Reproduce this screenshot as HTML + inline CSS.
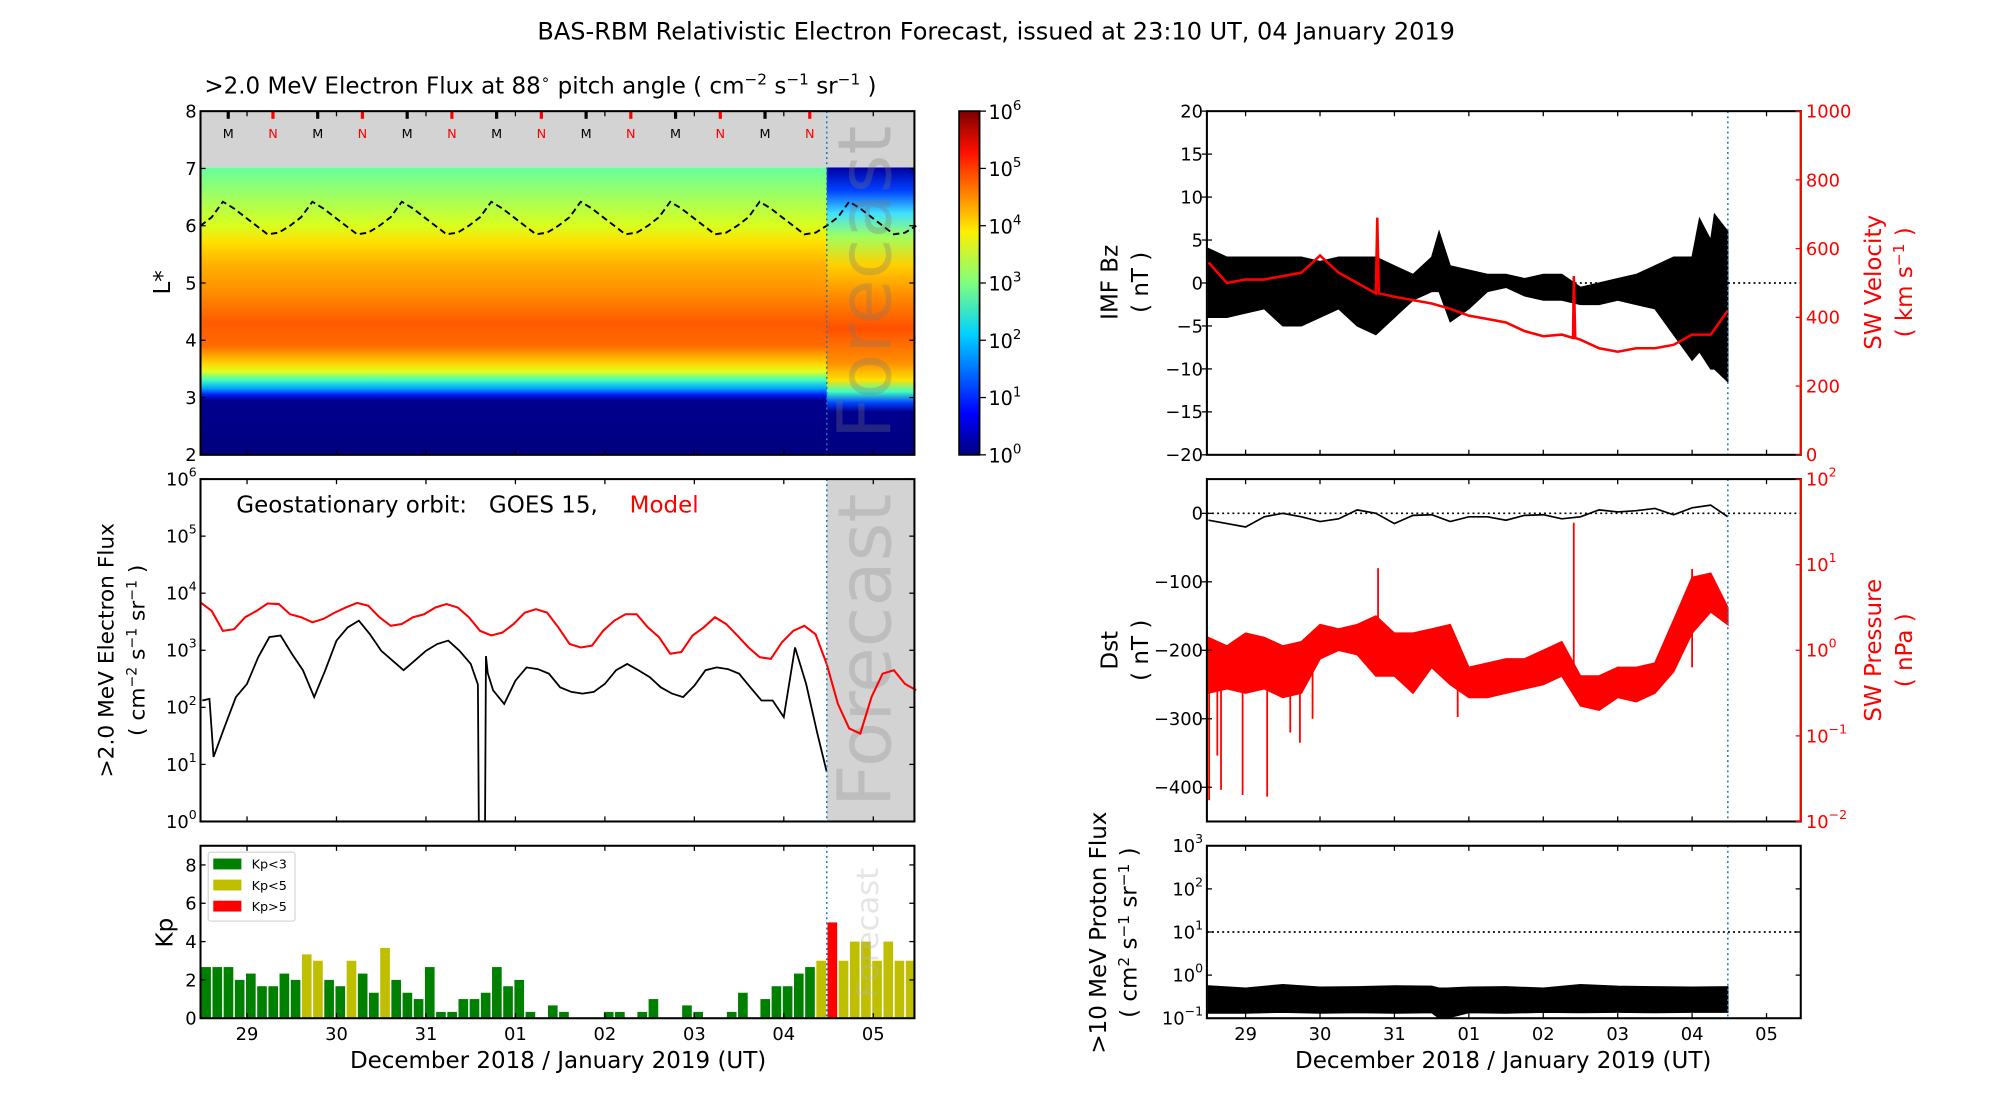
<!DOCTYPE html>
<html><head><meta charset="utf-8"><title>BAS-RBM Forecast</title>
<style>
html,body{margin:0;padding:0;background:#fff;}
svg{display:block;}
text{font-family:"DejaVu Sans","Liberation Sans",sans-serif;}
.ax{font-family:"DejaVu Sans","Liberation Sans",sans-serif;}
</style></head>
<body>
<svg id="fig" xmlns="http://www.w3.org/2000/svg" width="2000" height="1100" viewBox="0 0 1566 861" preserveAspectRatio="none">
<defs>
<linearGradient id="lgrad" gradientUnits="userSpaceOnUse" x1="0" y1="131" x2="0" y2="356">
<stop offset="0" stop-color="#66ffa0"/><stop offset="0.1" stop-color="#a0ff60"/><stop offset="0.2" stop-color="#d8ff20"/>
<stop offset="0.26" stop-color="#ffe000"/><stop offset="0.34" stop-color="#ffb000"/><stop offset="0.44" stop-color="#ff8c00"/>
<stop offset="0.54" stop-color="#ff5a00"/><stop offset="0.62" stop-color="#ff6a00"/><stop offset="0.68" stop-color="#ffd000"/>
<stop offset="0.71" stop-color="#e0ff20"/><stop offset="0.74" stop-color="#40ffc0"/><stop offset="0.77" stop-color="#00a0ff"/>
<stop offset="0.79" stop-color="#0020ff"/><stop offset="0.81" stop-color="#00008f"/><stop offset="1" stop-color="#00007f"/>
</linearGradient>
<linearGradient id="fgrad" gradientUnits="userSpaceOnUse" x1="0" y1="131" x2="0" y2="356">
<stop offset="0" stop-color="#0000a0"/><stop offset="0.08" stop-color="#0040ff"/><stop offset="0.16" stop-color="#40e0ff"/>
<stop offset="0.24" stop-color="#a0ff60"/><stop offset="0.34" stop-color="#ffd000"/><stop offset="0.44" stop-color="#ff9000"/>
<stop offset="0.56" stop-color="#ff5000"/><stop offset="0.68" stop-color="#ff9000"/><stop offset="0.74" stop-color="#ffe000"/>
<stop offset="0.78" stop-color="#40ffc0"/><stop offset="0.82" stop-color="#0040ff"/><stop offset="0.85" stop-color="#00008f"/>
<stop offset="1" stop-color="#00007f"/>
</linearGradient>
<linearGradient id="cgrad" x1="0" y1="1" x2="0" y2="0">
<stop offset="0" stop-color="#00007f"/><stop offset="0.12" stop-color="#0000ff"/><stop offset="0.35" stop-color="#00d0ff"/>
<stop offset="0.5" stop-color="#7fff7f"/><stop offset="0.65" stop-color="#ffee00"/><stop offset="0.88" stop-color="#ff1000"/>
<stop offset="1" stop-color="#7f0000"/>
</linearGradient>
</defs>
</svg>
<script>
// ---------- DATA ----------
const dayLabels = ["29","30","31","01","02","03","04","05"];
const kpValues = [2.67,2.67,2.67,2,2.33,1.67,1.67,2.33,2,3.33,3,2,1.67,3,2.33,1.33,3.67,2,1.33,1,2.67,0.33,0.33,1,1,1.33,2.67,1.67,2,0.33,0,0.67,0.33,0,0,0,0.33,0.33,0,0.33,1,0,0,0.67,0.33,0,0,0.33,1.33,0,1,1.67,1.67,2.33,2.67,3,5,3,4,4,3,4,3,3];
const goesT = [-0.5,-0.42,-0.375,-0.25,-0.125,0,0.125,0.25,0.375,0.5,0.625,0.75,0.875,1,1.125,1.25,1.375,1.5,1.625,1.75,1.875,2,2.125,2.25,2.375,2.5,2.58,2.59,2.66,2.67,2.69,2.75,2.875,3,3.125,3.25,3.375,3.5,3.625,3.75,3.875,4,4.125,4.25,4.375,4.5,4.625,4.75,4.875,5,5.125,5.25,5.375,5.5,5.625,5.75,5.875,6,6.125,6.25,6.375,6.48];
const goesLogFlux = [2.12,2.15,1.13,1.66,2.18,2.41,2.88,3.23,3.26,2.94,2.65,2.18,2.65,3.17,3.40,3.52,3.28,2.99,2.82,2.65,2.82,2.99,3.11,3.17,2.99,2.76,2.4,0,0,2.9,2.6,2.3,2.06,2.47,2.70,2.67,2.59,2.35,2.27,2.24,2.27,2.41,2.65,2.76,2.65,2.53,2.35,2.24,2.18,2.38,2.65,2.70,2.67,2.59,2.35,2.12,2.12,1.83,3.05,2.41,1.54,0.87];
const modelLogFlux = [3.84,3.69,3.34,3.37,3.58,3.69,3.82,3.81,3.63,3.58,3.49,3.55,3.66,3.75,3.83,3.78,3.58,3.43,3.46,3.58,3.63,3.75,3.81,3.75,3.58,3.34,3.26,3.31,3.46,3.66,3.72,3.66,3.40,3.11,3.05,3.08,3.34,3.52,3.63,3.63,3.40,3.23,2.94,2.97,3.26,3.40,3.58,3.46,3.26,3.05,2.88,2.85,3.14,3.34,3.43,3.28,2.76,2.06,1.63,1.54,2.18,2.59,2.65,2.41,2.30];
const geoLstar = [6.0,6.15,6.42,6.3,6.15,6.0,5.85,5.88,6.0,6.15,6.42,6.3,6.15,6.0,5.85,5.88,6.0,6.15,6.42,6.3,6.15,6.0,5.85,5.88,6.0,6.15,6.42,6.3,6.15,6.0,5.85,5.88,6.0,6.15,6.42,6.3,6.15,6.0,5.85,5.88,6.0,6.15,6.42,6.3,6.15,6.0,5.85,5.88,6.0,6.15,6.42,6.3,6.15,6.0,5.85,5.88,6.0,6.15,6.42,6.3,6.15,6.0,5.85,5.88,6.0];
const midnightT = [-0.21,0.79,1.79,2.79,3.79,4.79,5.79];
const noonT = [0.29,1.29,2.29,3.29,4.29,5.29,6.29];
const bzT = [-0.5,-0.25,0,0.25,0.5,0.75,1,1.25,1.5,1.75,2,2.25,2.5,2.6,2.75,3,3.25,3.5,3.75,4,4.25,4.5,4.75,5,5.25,5.5,5.75,6,6.1,6.25,6.3,6.48];
const bzMax = [4,3,3,3,3,3,2.5,3,3,3,2,1,3,6,2,1.5,1,1,0.5,1,1,-0.5,0,0.5,1,2,3,3,7.5,5,8,6];
const bzMin = [-4,-4,-3.5,-3,-5,-5,-4,-3,-5,-6,-4,-2,-1,-1,-4.5,-3,-1,-0.5,-1.5,-2,-2,-2.5,-2.5,-2,-2.5,-3,-6,-9,-8,-10,-10,-11.5];
const velT = [-0.5,-0.25,0,0.25,0.5,0.75,1,1.25,1.5,1.75,1.77,1.79,2,2.25,2.5,2.75,3,3.25,3.5,3.75,4,4.25,4.4,4.41,4.43,4.5,4.75,5,5.25,5.5,5.75,6,6.25,6.48];
const velocity = [560,500,510,510,520,530,580,530,500,470,690,470,460,450,440,425,405,395,385,360,345,350,340,520,340,335,310,300,310,310,320,350,350,420];
const dstT = [-0.5,-0.25,0,0.25,0.5,0.75,1,1.25,1.5,1.75,2,2.25,2.5,2.75,3,3.25,3.5,3.75,4,4.25,4.5,4.75,5,5.25,5.5,5.75,6,6.25,6.48];
const dstValues = [-10,-15,-20,-5,0,-5,-12,-8,5,0,-15,-3,-2,-12,-5,-5,-10,-3,-2,-8,-5,5,2,4,7,-2,8,12,-5];
const presT = [-0.5,-0.25,0,0.25,0.5,0.75,1,1.25,1.5,1.75,2,2.25,2.5,2.75,3,3.25,3.5,3.75,4,4.25,4.5,4.75,5,5.25,5.5,5.75,6,6.25,6.48];
const presLogMax = [0.15,0.05,0.2,0.15,0.05,0.1,0.3,0.25,0.3,0.4,0.2,0.2,0.25,0.3,-0.2,-0.15,-0.1,-0.1,0,0.1,-0.3,-0.3,-0.2,-0.2,-0.15,0.35,0.85,0.9,0.5];
const presLogMin = [-0.5,-0.45,-0.5,-0.45,-0.55,-0.5,-0.1,0,-0.05,-0.3,-0.3,-0.5,-0.2,-0.4,-0.55,-0.55,-0.5,-0.45,-0.4,-0.3,-0.65,-0.7,-0.55,-0.6,-0.5,-0.25,0.2,0.45,0.3];
const presSpikeT = [-0.49,-0.38,-0.33,-0.04,0.29,0.6,0.73,0.9,1.78,2.85,4.41,6.0];
const presSpikeLog = [-1.75,-1.23,-1.63,-1.69,-1.71,-0.96,-1.08,-0.8,0.96,-0.78,1.49,0.95];
const protT = [-0.5,0,0.5,1,1.5,2,2.5,2.6,2.7,3,3.5,4,4.5,5,5.5,6,6.48];
const protLogMax = [-0.25,-0.3,-0.22,-0.28,-0.27,-0.25,-0.26,-0.3,-0.3,-0.28,-0.27,-0.3,-0.22,-0.26,-0.27,-0.28,-0.27];
const protLogMin = [-0.88,-0.88,-0.86,-0.88,-0.87,-0.88,-0.87,-1,-1,-0.87,-0.88,-0.86,-0.87,-0.86,-0.87,-0.86,-0.86];
const forecastT = 6.48;

// ---------- HELPERS ----------
const NS = "http://www.w3.org/2000/svg";
const svg = document.getElementById('fig');
function mk(tag, attrs, parent){ const e=document.createElementNS(NS,tag); for(const k in attrs) e.setAttribute(k,attrs[k]); (parent||svg).appendChild(e); return e; }
function txt(x,y,s,attrs){ const e=mk('text',Object.assign({x:x,y:y},attrs||{})); e.textContent=s; return e; }
function sup(e, base, exp){ const t1=document.createElementNS(NS,'tspan'); t1.textContent=base; e.appendChild(t1); const t2=document.createElementNS(NS,'tspan'); t2.setAttribute('dy','-7'); t2.setAttribute('font-size','0.7em'); t2.textContent=exp; e.appendChild(t2); }
const LX = t => 157 + (t+0.52)*70.05;
const RX = t => 945 + (t+0.52)*58.27;
const yL = L => 356 - (L-2)*44.83;
const yGeo = v => 643 - v*44.67;
const yKp = k => 797 - k*15;
const yBz = b => 221.5 - b*6.725;
const yVel = v => 356 - v*0.269;
const yDst = d => 375 + (50-d)*0.536;
const yPres = p => 643 - (p+2)*67;
const yProt = p => 797 - (p+1)*33.75;
function poly(xs, ys){ return xs.map((x,i)=>x.toFixed(1)+','+ys[i].toFixed(1)).join(' '); }

// ---------- TITLE ----------
let e = txt(780,31,"BAS-RBM Relativistic Electron Forecast, issued at 23:10 UT, 04 January 2019",{'text-anchor':'middle','font-size':'18.8'});
 
e = txt(160,73,"",{'font-size':'18'});
 
e.innerHTML = '&gt;2.0 MeV Electron Flux at 88<tspan dy="-7" font-size="12">∘</tspan><tspan dy="7"> pitch angle ( cm</tspan><tspan dy="-7" font-size="12">−2</tspan><tspan dy="7"> s</tspan><tspan dy="-7" font-size="12">−1</tspan><tspan dy="7"> sr</tspan><tspan dy="-7" font-size="12">−1</tspan><tspan dy="7"> )</tspan>';

// ---------- PANEL 1: heatmap ----------
let g = mk('g',{});
 
e = mk('rect',{x:157,y:131,width:559,height:225,fill:'url(#lgrad)'},g);
 
e = mk('rect',{x:LX(forecastT),y:131,width:716-LX(forecastT),height:225,fill:'url(#fgrad)'},g);
 
e = mk('rect',{x:157,y:87,width:559,height:44,fill:'#d3d3d3'},g);
 
midnightT.forEach(t=>{
  let m = mk('line',{x1:LX(t),x2:LX(t),y1:87,y2:93,stroke:'#000','stroke-width':2.5},g);
   
  m = txt(LX(t),108,"M",{'text-anchor':'middle','font-size':'10'});
   
});
noonT.forEach(t=>{
  let m = mk('line',{x1:LX(t),x2:LX(t),y1:87,y2:93,stroke:'#ff0000','stroke-width':2.5},g);
   
  m = txt(LX(t),108,"N",{'text-anchor':'middle','font-size':'10',fill:'#ff0000'});
   
});
e = mk('polyline',{points:poly(geoLstar.map((v,i)=>LX(-0.52+i*0.125)),geoLstar.map(yL)),fill:'none',stroke:'#000','stroke-width':1.5,'stroke-dasharray':'5,3'},g);
 
e = txt(0,0,"Forecast",{'font-size':'58',fill:'rgba(120,120,120,0.3)',transform:`translate(${LX(forecastT)+50},221) rotate(-90)`,'text-anchor':'middle','class':'ax'});
 

// ---------- PANEL 2: GOES ----------
e = mk('rect',{x:LX(forecastT),y:375,width:716-LX(forecastT),height:268,fill:'#d3d3d3'});
 
e = txt(0,0,"Forecast",{'font-size':'58',fill:'#bdbdbd',transform:`translate(${LX(forecastT)+50},509) rotate(-90)`,'text-anchor':'middle','class':'ax'});
 
e = mk('polyline',{points:poly(modelLogFlux.map((v,i)=>LX(-0.52+i*0.125)),modelLogFlux.map(yGeo)),fill:'none',stroke:'#ff0000','stroke-width':1.6});
 
e = mk('polyline',{points:poly(goesT.map(LX),goesLogFlux.map(yGeo)),fill:'none',stroke:'#000','stroke-width':1.4});
 
e = txt(185,401,"Geostationary orbit:   GOES 15,",{'font-size':'18','style':'white-space:pre'});
 
e = txt(493,401,"Model",{'font-size':'18',fill:'#ff0000'});
 

// ---------- PANEL 3: Kp ----------
kpValues.forEach((k,i)=>{
  const t0=-0.52+i*0.125;
  const col = k>=5 ? '#ff0000' : (k>=3 ? '#bfbf00' : '#008000');
  const b = mk('rect',{x:LX(t0)+0.6,y:yKp(k),width:70.05*0.125-1.2,height:797-yKp(k),fill:col});
   
});
e = txt(0,0,"Forecast",{'font-size':'24',fill:'rgba(180,180,180,0.35)',transform:`translate(${LX(forecastT)+40},730) rotate(-90)`,'text-anchor':'middle','class':'ax'});
 
g = mk('g',{});
 
mk('rect',{x:163,y:667,width:68,height:54,fill:'#fff',stroke:'#ccc','stroke-width':0.8,rx:2},g);
[["Kp<3",'#008000'],["Kp<5",'#bfbf00'],["Kp>5",'#ff0000']].forEach((it,i)=>{
  const r=mk('rect',{x:167,y:672+i*16.5,width:22,height:8.5,fill:it[1]},g);
   
  const tt=txt(197,680+i*16.5,it[0],{'font-size':'10'}); g.appendChild(tt);
   
});

// ---------- RIGHT 1: Bz / velocity ----------
e = mk('line',{x1:945,x2:1410,y1:yBz(0),y2:yBz(0),stroke:'#000','stroke-width':1.3,'stroke-dasharray':'1.5,2.5'});
 
e = mk('polygon',{points:poly(bzT.map(RX).concat(bzT.slice().reverse().map(RX)),bzMax.map(yBz).concat(bzMin.slice().reverse().map(yBz))),fill:'#000',stroke:'#000','stroke-width':1});
 
e = mk('polyline',{points:poly(velT.map(RX),velocity.map(yVel)),fill:'none',stroke:'#ff0000','stroke-width':2});
 

// ---------- RIGHT 2: Dst / pressure ----------
e = mk('line',{x1:945,x2:1410,y1:yDst(0),y2:yDst(0),stroke:'#000','stroke-width':1.3,'stroke-dasharray':'1.5,2.5'});
 
e = mk('polygon',{points:poly(presT.map(RX).concat(presT.slice().reverse().map(RX)),presLogMax.map(yPres).concat(presLogMin.slice().reverse().map(yPres))),fill:'#ff0000',stroke:'#ff0000','stroke-width':1.2});
 
presSpikeT.forEach((t,i)=>{
  const s=mk('line',{x1:RX(t),x2:RX(t),y1:yPres(-0.2),y2:yPres(presSpikeLog[i]),stroke:'#ff0000','stroke-width':1.4});
   
});
e = mk('polyline',{points:poly(dstT.map(RX),dstValues.map(yDst)),fill:'none',stroke:'#000','stroke-width':1.3});
 

// ---------- RIGHT 3: proton ----------
e = mk('line',{x1:945,x2:1410,y1:yProt(1),y2:yProt(1),stroke:'#000','stroke-width':1.3,'stroke-dasharray':'1.5,2.5'});
 
e = mk('polygon',{points:poly(protT.map(RX).concat(protT.slice().reverse().map(RX)),protLogMax.map(yProt).concat(protLogMin.slice().reverse().map(yProt))),fill:'#000',stroke:'#000','stroke-width':1});
 

// ---------- FORECAST LINES ----------
[[LX,87,356],[LX,375,643],[LX,662,797],[RX,87,356],[RX,375,643],[RX,662,797]].forEach(p=>{
  const l=mk('line',{x1:p[0](forecastT),x2:p[0](forecastT),y1:p[1],y2:p[2],stroke:'#1f77b4','stroke-width':1.2,'stroke-dasharray':'1.5,2.5'});
   
});

// ---------- AXES FRAMES & TICKS ----------
function frame(x,y,w,h,name,rightCol){
  const r=mk('rect',{x:x,y:y,width:w,height:h,fill:'none',stroke:'#000','stroke-width':1.6});
   
  if(rightCol){ const l=mk('line',{x1:x+w,x2:x+w,y1:y,y2:y+h,stroke:rightCol,'stroke-width':1.6});   }
}
function xticks(X,y0,y1,labels){
  for(let d=0; d<8; d++){
    const x=X(d);
    mk('line',{x1:x,x2:x,y1:y1,y2:y1-4,stroke:'#000','stroke-width':1});
    mk('line',{x1:x,x2:x,y1:y0,y2:y0+4,stroke:'#000','stroke-width':1});
    if(labels){ const t=txt(x,y1+17,dayLabels[d],{'text-anchor':'middle','font-size':'14'});   }
  }
}
function yticks(x0,x1,vals,Y,fmt,col,side){
  vals.forEach(v=>{
    const y=Y(v);
    if(side!=='right'){ mk('line',{x1:x0,x2:x0+4,y1:y,y2:y,stroke:'#000'}); }
    mk('line',{x1:x1,x2:x1-4,y1:y,y2:y,stroke:col||'#000'});
    const t = side==='right' ? txt(x1+4,y+5,'',{'font-size':'14',fill:col||'#000'}) : txt(x0-3,y+5,'',{'font-size':'14','text-anchor':'end',fill:col||'#000'});
    fmt(t,v);
     
  });
}
const plain = (t,v)=>{ t.textContent = (v<0?'−':'')+Math.abs(v); };
const pow10 = (t,v)=>{ sup(t,'10', v<0?('−'+Math.abs(v)):String(v)); };

frame(157,87,559,269,'heatmap-axes'); xticks(LX,87,356,false);
yticks(157,716,[2,3,4,5,6,7,8],yL,plain);
frame(157,375,559,268,'geo-flux-axes'); xticks(LX,375,643,false);
yticks(157,716,[0,1,2,3,4,5,6],yGeo,pow10);
frame(157,662,559,135,'kp-axes'); xticks(LX,662,797,true);
yticks(157,716,[0,2,4,6,8],yKp,plain);
frame(945,87,465,269,'bz-axes','#ff0000'); xticks(RX,87,356,false);
yticks(945,945,[-20,-15,-10,-5,0,5,10,15,20],yBz,plain);
yticks(1410,1410,[0,200,400,600,800,1000],yVel,plain,'#ff0000','right');
frame(945,375,465,268,'dst-axes','#ff0000'); xticks(RX,375,643,false);
yticks(945,945,[0,-100,-200,-300,-400],yDst,plain);
yticks(1410,1410,[-2,-1,0,1,2],yPres,pow10,'#ff0000','right');
frame(945,662,465,135,'proton-axes'); xticks(RX,662,797,true);
yticks(945,1410,[-1,0,1,2,3],yProt,pow10);

// ---------- COLORBAR ----------
e = mk('rect',{x:751,y:87,width:16,height:269,fill:'url(#cgrad)',stroke:'#000','stroke-width':1.4});
 
for(let k=0;k<=6;k++){
  const y=356-k*269/6;
  mk('line',{x1:767,x2:772,y1:y,y2:y,stroke:'#000'});
  const t=txt(774,y+6,'',{'font-size':'15'}); sup(t,'10',String(k));
   
}

// ---------- AXIS TITLES ----------
function vlabel(x,y,s,col,size,name){ const t=txt(0,0,s,{'font-size':size||18,fill:col||'#000','text-anchor':'middle',transform:`translate(${x},${y}) rotate(-90)`,'class':'ax'});   return t; }
vlabel(133,221,"L*",null,18,'lstar-axis-title');
vlabel(89,509,">2.0 MeV Electron Flux",null,17,'geo-flux-axis-title');
e = vlabel(113,509,"",null,17,'geo-flux-units');
e.innerHTML='( cm<tspan dy="-6" font-size="11">−2</tspan><tspan dy="6"> s</tspan><tspan dy="-6" font-size="11">−1</tspan><tspan dy="6"> sr</tspan><tspan dy="-6" font-size="11">−1</tspan><tspan dy="6"> )</tspan>';
vlabel(135,730,"Kp",null,18,'kp-axis-title');
vlabel(875,221,"IMF Bz",null,18,'bz-axis-title');
vlabel(899,221,"( nT )",null,18,'bz-units');
vlabel(1473,221,"SW Velocity",'#ff0000',18,'velocity-axis-title');
e = vlabel(1497,221,"",'#ff0000',18,'velocity-units');
e.innerHTML='( km s<tspan dy="-6" font-size="12">−1</tspan><tspan dy="6"> )</tspan>';
vlabel(875,509,"Dst",null,18,'dst-axis-title');
vlabel(899,509,"( nT )",null,18,'dst-units');
vlabel(1473,509,"SW Pressure",'#ff0000',18,'pressure-axis-title');
vlabel(1497,509,"( nPa )",'#ff0000',18,'pressure-units');
vlabel(866,730,">10 MeV Proton Flux",null,18,'proton-axis-title');
e = vlabel(890,730,"",null,18,'proton-units');
e.innerHTML='( cm<tspan dy="-6" font-size="12">2</tspan><tspan dy="6"> s</tspan><tspan dy="-6" font-size="12">−1</tspan><tspan dy="6"> sr</tspan><tspan dy="-6" font-size="12">−1</tspan><tspan dy="6"> )</tspan>';
e = txt(437,836,"December 2018 / January 2019 (UT)",{'text-anchor':'middle','font-size':'18'});
 
e = txt(1177,836,"December 2018 / January 2019 (UT)",{'text-anchor':'middle','font-size':'18'});
 
</script>
</body></html>
